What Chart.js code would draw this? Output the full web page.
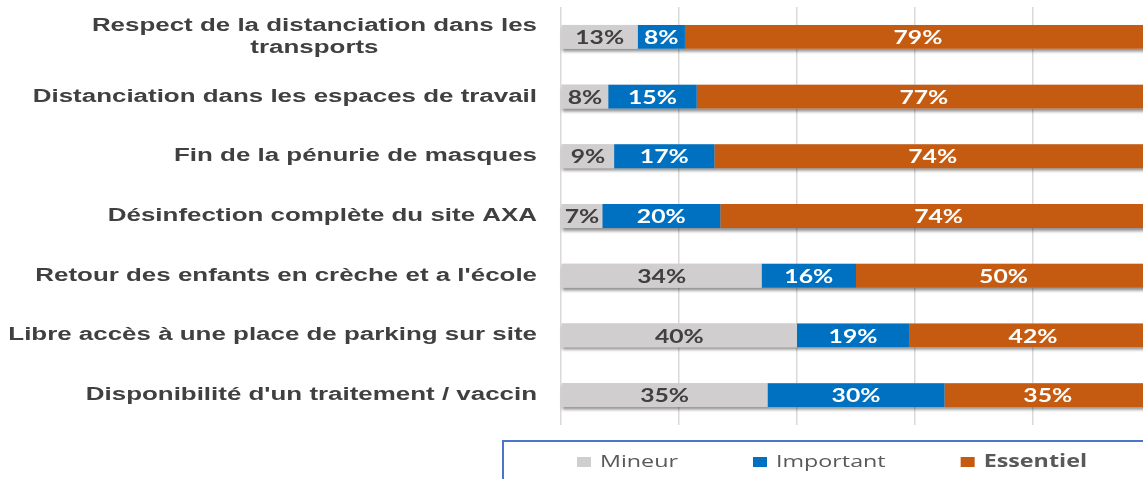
<!DOCTYPE html>
<html lang="fr">
<head>
  <meta charset="UTF-8">
  <title>Conditions de retour sur site</title>
  <script src="https://cdn.jsdelivr.net/npm/chart.js"></script>
  <style>
    body {
      margin: 0;
      background: #fff;
      overflow: hidden;
      width: 1143px;
      height: 479px;
    }
    #chart {
      display: block;
    }
  </style>
</head>
<body>
  <canvas id="chart" width="1160" height="479"></canvas>

  <script>
    const categories = [
      ['Respect de la distanciation dans les', 'transports'],
      'Distanciation dans les espaces de travail',
      'Fin de la pénurie de masques',
      'Désinfection complète du site AXA',
      "Retour des enfants en crèche et a l'école",
      'Libre accès à une place de parking sur site',
      "Disponibilité d'un traitement / vaccin"
    ];
    const seriesNames = ['Mineur', 'Important', 'Essentiel'];
    const mineur = [13, 8, 9, 7, 34, 40, 35];
    const important = [8, 15, 17, 20, 16, 19, 30];
    const essentiel = [79, 77, 74, 74, 50, 42, 35];

    const couleurs = ['#d0cece', '#0070c0', '#c55a11'];
    const couleursTexte = ['#404040', '#ffffff', '#ffffff'];

    // le visuel d'origine est etire horizontalement
    function texteEtire(ctx, txt, x, y, sx, align) {
      ctx.save();
      ctx.translate(x, y);
      ctx.scale(sx, 1);
      ctx.textAlign = align;
      ctx.fillText(txt, 0, 0);
      ctx.restore();
    }

    // ombre portee sous chaque barre (effet Excel)
    const ombrePlugin = {
      id: 'ombre',
      beforeDatasetsDraw(chart) {
        const ctx = chart.ctx;
        const first = chart.getDatasetMeta(0).data;
        const last = chart.getDatasetMeta(chart.data.datasets.length - 1).data;
        ctx.save();
        ctx.shadowColor = 'rgba(0,0,0,0.45)';
        ctx.shadowBlur = 3;
        ctx.shadowOffsetY = 3;
        ctx.fillStyle = '#d0cece';
        first.forEach((bar, i) => {
          ctx.fillRect(bar.base, bar.y - bar.height / 2, last[i].x - bar.base, bar.height);
        });
        ctx.restore();
      }
    };

    // valeurs au centre des segments
    const valeursPlugin = {
      id: 'valeurs',
      afterDatasetsDraw(chart) {
        const ctx = chart.ctx;
        ctx.save();
        ctx.font = 'bold 19px Lato, sans-serif';
        ctx.textBaseline = 'middle';
        chart.data.datasets.forEach((ds, di) => {
          chart.getDatasetMeta(di).data.forEach((bar, i) => {
            ctx.fillStyle = couleursTexte[di];
            texteEtire(ctx, ds.data[i] + '%', (bar.x + bar.base) / 2, bar.y + 1, 1.3, 'center');
          });
        });
        ctx.restore();
      }
    };

    // libelles de l'axe vertical : bloc aligne a droite, lignes centrees entre elles
    const libellesPlugin = {
      id: 'libelles',
      afterDraw(chart) {
        const ctx = chart.ctx;
        const scale = chart.scales.y;
        const xDroite = 537;
        const hLigne = 22;
        const sx = 1.44;
        ctx.save();
        ctx.font = 'bold 18px "Liberation Sans", Arial, sans-serif';
        ctx.fillStyle = '#404040';
        ctx.textBaseline = 'middle';
        chart.data.labels.forEach((lab, i) => {
          const lignes = Array.isArray(lab) ? lab : [lab];
          const y = scale.getPixelForTick(i);
          if (lignes.length === 1) {
            texteEtire(ctx, lignes[0], xDroite, y, sx, 'right');
            return;
          }
          const largeur = Math.max(...lignes.map(l => ctx.measureText(l).width)) * sx;
          lignes.forEach((l, k) => {
            const yy = y + (k - (lignes.length - 1) / 2) * hLigne;
            texteEtire(ctx, l, xDroite - largeur / 2, yy, sx, 'center');
          });
        });
        ctx.restore();
      }
    };

    // legende encadree sous le graphique
    const legendePlugin = {
      id: 'legendeCadre',
      afterDraw(chart) {
        const ctx = chart.ctx;
        const sx = 1.37;
        const yc = 462;
        ctx.save();
        ctx.strokeStyle = '#4a76c6';
        ctx.lineWidth = 2;
        ctx.strokeRect(503, 441, 800, 80);
        ctx.textBaseline = 'middle';
        let x = 577;
        chart.data.datasets.forEach((ds, i) => {
          ctx.fillStyle = ds.backgroundColor;
          ctx.fillRect(x, yc - 5, 14, 10);
          ctx.font = (i === 2 ? 'bold ' : '') + '17px "Open Sans", sans-serif';
          ctx.fillStyle = '#595959';
          texteEtire(ctx, ds.label, x + 23, yc, sx, 'left');
          x += 23 + ctx.measureText(ds.label).width * sx + 75;
        });
        ctx.restore();
      }
    };

    const series = [mineur, important, essentiel];

    new Chart(document.getElementById('chart'), {
      type: 'bar',
      data: {
        labels: categories,
        datasets: seriesNames.map((nom, i) => ({
          label: nom,
          data: series[i],
          backgroundColor: couleurs[i],
          borderWidth: 0,
          barPercentage: 0.4,
          categoryPercentage: 1
        }))
      },
      options: {
        indexAxis: 'y',
        responsive: false,
        animation: false,
        layout: { padding: { top: 7, bottom: 54, right: 9, left: 0 } },
        scales: {
          x: {
            stacked: true,
            min: 0,
            max: 100,
            ticks: { display: false, stepSize: 20 },
            grid: { color: '#d9d9d9', lineWidth: 1.5, drawTicks: false },
            border: { display: false }
          },
          y: {
            stacked: true,
            ticks: { display: false },
            grid: { display: false },
            border: { display: false },
            afterFit(scale) { scale.width = 561; }
          }
        },
        plugins: {
          legend: { display: false },
          tooltip: { enabled: false }
        }
      },
      plugins: [ombrePlugin, valeursPlugin, libellesPlugin, legendePlugin]
    });
  </script>
</body>
</html>
